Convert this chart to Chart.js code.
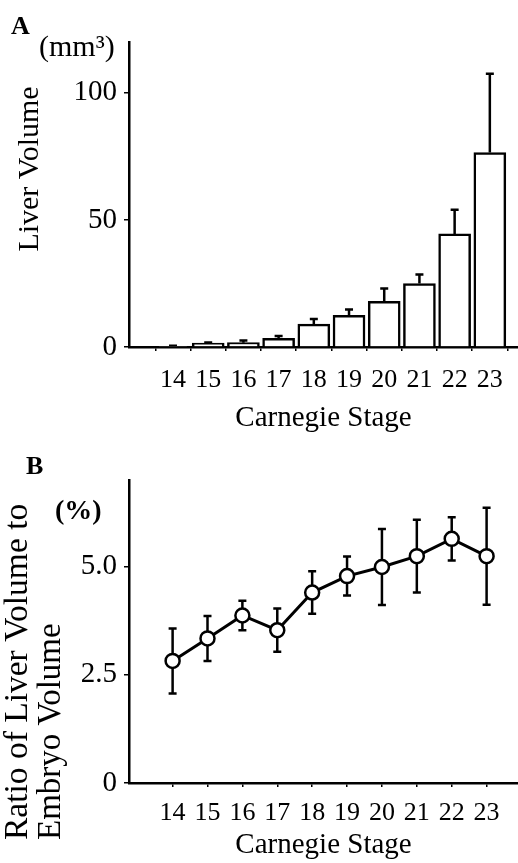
<!DOCTYPE html>
<html>
<head>
<meta charset="utf-8">
<script src="https://cdn.jsdelivr.net/npm/chart.js@4.4.0/dist/chart.umd.min.js"></script>
<style>
  html, body { margin: 0; padding: 0; background: #fff; }
  #wrap { position: relative; width: 518px; height: 863px; }
  canvas { position: absolute; left: 0; }
  #chartA { top: 0; }
  #chartB { top: 440px; }
</style>
</head>
<body>
<div id="wrap">
  <canvas id="chartA" width="518" height="440"></canvas>
  <canvas id="chartB" width="518" height="423"></canvas>
</div>
<script>
// Carnegie stages on the x axis
const stages = [14, 15, 16, 17, 18, 19, 20, 21, 22, 23];

// panel A: liver volume (mm3), mean and upper SD
const liverVolume = [0.3, 1.5, 1.7, 3.4, 9.0, 12.5, 18.0, 25.0, 44.5, 76.5];
const liverVolumeSD = [0.2, 0.3, 0.9, 0.9, 2.0, 2.3, 5.0, 3.5, 9.5, 31.0];
const volumeTicks = [0, 50, 100];

// panel B: ratio of liver volume to embryo volume (%), mean and SD
const liverRatio = [2.82, 3.34, 3.87, 3.53, 4.40, 4.78, 4.99, 5.24, 5.64, 5.24];
const liverRatioSD = [0.75, 0.52, 0.34, 0.50, 0.49, 0.45, 0.88, 0.84, 0.50, 1.12];
const ratioTicks = [0, 2.5, 5.0];

Chart.defaults.font.family = "'Liberation Serif', 'Times New Roman', serif";
Chart.defaults.color = '#000';

const points = (ys) => stages.map((s, i) => ({ x: s, y: ys[i] }));

// draws SD whiskers from the dataset values
const errorBars = {
  id: 'errorBars',
  beforeDatasetsDraw(chart, args, opts) {
    const { ctx, scales: { x, y } } = chart;
    const data = chart.data.datasets[0].data;
    ctx.save();
    ctx.strokeStyle = '#000';
    ctx.lineWidth = opts.width;
    data.forEach((p, i) => {
      const sd = opts.sd[i];
      const px = x.getPixelForValue(p.x);
      const top = y.getPixelForValue(p.y + sd);
      const bottom = y.getPixelForValue(opts.upOnly ? p.y : p.y - sd);
      ctx.beginPath();
      ctx.moveTo(px, bottom);
      ctx.lineTo(px, top);
      ctx.moveTo(px - opts.cap, top);
      ctx.lineTo(px + opts.cap, top);
      if (!opts.upOnly) {
        ctx.moveTo(px - opts.cap, bottom);
        ctx.lineTo(px + opts.cap, bottom);
      }
      ctx.stroke();
    });
    ctx.restore();
  }
};

// free text: panel letters, units, rotated y titles
const panelText = {
  id: 'panelText',
  afterDraw(chart, args, opts) {
    const ctx = chart.ctx;
    (opts.items || []).forEach(t => {
      ctx.save();
      ctx.fillStyle = '#000';
      ctx.font = t.font;
      ctx.textAlign = t.align || 'left';
      ctx.textBaseline = 'middle';
      ctx.translate(t.x, t.y);
      if (t.rotate) ctx.rotate(-Math.PI / 2);
      ctx.fillText(t.text, 0, 0);
      ctx.restore();
    });
  }
};

const serif = "'Liberation Serif', 'Times New Roman', serif";

function xScale(min, max, height, tickPad, titlePad) {
  return {
    type: 'linear',
    offset: false,
    min: min,
    max: max,
    afterBuildTicks: (scale) => { scale.ticks = stages.map(v => ({ value: v })); },
    afterFit: (scale) => { scale.height = height; },
    ticks: { autoSkip: false, maxRotation: 0, padding: tickPad, font: { size: 26 } },
    grid: { drawOnChartArea: false, drawTicks: true, tickLength: 4, color: '#000', lineWidth: 1.5 },
    border: { color: '#000', width: 2.5 },
    title: { display: true, text: 'Carnegie Stage', font: { size: 29 }, padding: { top: 0, bottom: titlePad } }
  };
}

function yScale(max, ticks, format) {
  return {
    min: 0,
    max: max,
    afterBuildTicks: (scale) => { scale.ticks = ticks.map(v => ({ value: v })); },
    afterFit: (scale) => { scale.width = 129; },
    ticks: { padding: 7, font: { size: 29 }, callback: format },
    grid: { drawOnChartArea: false, drawTicks: true, tickLength: 5, color: '#000', lineWidth: 1.5 },
    border: { color: '#000', width: 2.5 }
  };
}

new Chart(document.getElementById('chartA'), {
  type: 'bar',
  data: {
    datasets: [{
      data: points(liverVolume),
      backgroundColor: '#fff',
      borderColor: '#000',
      borderWidth: 2.5,
      barThickness: 32
    }]
  },
  options: {
    responsive: false,
    animation: false,
    layout: { autoPadding: false, padding: { top: 42, right: 0, left: 0, bottom: 0 } },
    plugins: {
      legend: { display: false },
      tooltip: { enabled: false },
      errorBars: { sd: liverVolumeSD, upOnly: true, width: 2.5, cap: 4 },
      panelText: {
        items: [
          { text: 'A', x: 11, y: 27, font: 'bold 26px ' + serif },
          { text: '(mm³)', x: 39, y: 48, font: '30px ' + serif },
          { text: 'Liver Volume', x: 30, y: 169, font: '30px ' + serif, rotate: true, align: 'center' }
        ]
      }
    },
    scales: {
      x: xScale(12.75, 23.8, 93, 14, 4),
      y: yScale(120, volumeTicks, (v) => String(v))
    }
  },
  plugins: [errorBars, panelText]
});

new Chart(document.getElementById('chartB'), {
  type: 'line',
  data: {
    datasets: [{
      data: points(liverRatio),
      borderColor: '#000',
      borderWidth: 3,
      tension: 0,
      pointRadius: 7,
      pointBackgroundColor: '#fff',
      pointBorderColor: '#000',
      pointBorderWidth: 2.5
    }]
  },
  options: {
    responsive: false,
    animation: false,
    layout: { autoPadding: false, padding: { top: 40, right: 0, left: 0, bottom: 0 } },
    plugins: {
      legend: { display: false },
      tooltip: { enabled: false },
      errorBars: { sd: liverRatioSD, upOnly: false, width: 2.5, cap: 4 },
      panelText: {
        items: [
          { text: 'B', x: 26, y: 27, font: 'bold 26px ' + serif },
          { text: '(%)', x: 55, y: 72, font: 'bold 28px ' + serif },
          { text: 'Ratio of Liver Volume to', x: 18, y: 400, font: '33.5px ' + serif, rotate: true, align: 'left' },
          { text: 'Embryo Volume', x: 51, y: 400, font: '33px ' + serif, rotate: true, align: 'left' }
        ]
      }
    },
    scales: {
      x: xScale(12.75, 23.9, 80, 11, 0),
      y: yScale(7, ratioTicks, (v) => v === 0 ? '0' : v.toFixed(1))
    }
  },
  plugins: [errorBars, panelText]
});
</script>
</body>
</html>
